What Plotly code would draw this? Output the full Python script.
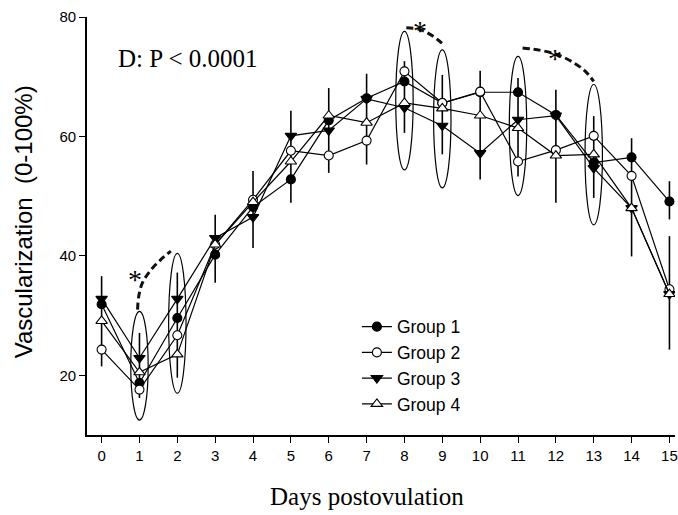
import plotly.graph_objects as go

# ---------------- data ----------------
days = list(range(16))
group1 = [31.9, 18.7, 29.6, 40.2, 48.2, 52.8, 62.7, 66.4, 69.2, 65.6, 67.4, 67.4, 63.6, 55.6, 56.5, 49.1]
group2 = [24.3, 17.6, 26.7, 41.9, 49.4, 57.6, 56.8, 59.3, 70.9, 65.6, 67.5, 55.8, 57.7, 60.1, 53.4, 34.4]
group3 = [32.8, 22.9, 32.8, 43.0, 46.5, 60.1, 61.0, 66.3, 64.8, 61.8, 57.2, 62.8, 63.5, 54.7, 48.0, 33.6]
group4 = [29.1, 20.5, 23.5, 41.9, 49.0, 55.8, 63.5, 62.3, 65.6, 64.7, 63.5, 61.4, 56.8, 57.0, 48.0, 33.6]

# error bar extents (top / bottom of the visible vertical bars)
bar_top = [36.6, 27.1, 37.2, 46.9, 54.2, 64.3, 68.1, 70.5, 72.6, 70.3, 71.0, 69.8, 67.8, 63.4, 59.7, 52.5]
bar_bottom = [21.5, 16.2, 19.6, 35.5, 41.3, 48.9, 53.9, 55.3, 60.6, 57.0, 52.8, 53.3, 48.9, 49.7, 39.9, 46.1]
# second bar drawn only on day 15 (groups 2-4)
bar2_top = [None] * 15 + [43.3]
bar2_bottom = [None] * 15 + [24.3]

# significance ellipses
ell_days = [1, 2, 8, 9, 11, 13]
ell_low = [12.5, 17.0, 54.4, 51.4, 50.1, 45.2]
ell_high = [30.7, 40.4, 77.6, 74.5, 73.4, 68.7]

# dashed significance curves
curve1_x = [0.95, 0.98, 1.08, 1.31, 1.57, 1.83]
curve1_y = [31.0, 33.2, 35.5, 37.7, 39.4, 40.8]
curve2_x = [8.05, 8.36, 8.62, 8.88, 9.06]
curve2_y = [78.2, 78.0, 77.3, 76.2, 75.2]
curve3_x = [11.12, 11.60, 12.04, 12.48, 12.78, 13.00]
curve3_y = [74.8, 74.4, 73.7, 72.3, 70.9, 69.2]

star_x = [0.89, 8.41, 11.98]
star_y = [36.0, 77.8, 73.1]

x_ticks = list(range(16))
y_ticks = [20, 40, 60, 80]

# ---------------- figure ----------------
fig = go.Figure()

plus1 = [t - v for t, v in zip(bar_top, group1)]
minus1 = [v - b for b, v in zip(bar_bottom, group1)]
plus2 = [0 if t is None else t - v for t, v in zip(bar2_top, group2)]
minus2 = [0 if b is None else v - b for b, v in zip(bar2_bottom, group2)]

# dashed curves (behind)
for cx, cy in [(curve1_x, curve1_y), (curve2_x, curve2_y), (curve3_x, curve3_y)]:
    fig.add_trace(go.Scatter(x=cx, y=cy, mode="lines", showlegend=False,
                             line=dict(color="#111111", width=3, dash="7px,4px", shape="spline"),
                             hoverinfo="skip"))

series = [
    ("Group 1", group1, "circle", "black", 9, dict(type="data", symmetric=False, array=plus1, arrayminus=minus1)),
    ("Group 2", group2, "circle", "white", 9, dict(type="data", symmetric=False, array=plus2, arrayminus=minus2)),
    ("Group 3", group3, "triangle-down", "black", 10, None),
    ("Group 4", group4, "triangle-up", "white", 10, None),
]
for name, vals, sym, fill, size, err in series:
    tr = go.Scatter(x=days, y=vals, name=name, mode="lines+markers",
                    line=dict(color="black", width=1.2),
                    marker=dict(symbol=sym, size=size, color=fill,
                                line=dict(color="black", width=1.1)))
    if err is not None:
        err.update(color="black", thickness=1.6, width=0)
        tr.error_y = err
    fig.add_trace(tr)

for d, lo, hi in zip(ell_days, ell_low, ell_high):
    fig.add_shape(type="circle", xref="x", yref="y", x0=d - 0.23, x1=d + 0.23, y0=lo, y1=hi,
                  line=dict(color="black", width=1.2))

for sx, sy in zip(star_x, star_y):
    fig.add_annotation(x=sx, y=sy, text="*", showarrow=False, xanchor="center", yanchor="middle",
                       font=dict(family="Liberation Serif", size=28, color="#000000"))

fig.add_annotation(x=0.38, y=73.0, text="D: P < 0.0001", showarrow=False, xanchor="left", yanchor="middle",
                   font=dict(family="Liberation Serif", size=25, color="#000000"))

fig.add_annotation(xref="paper", yref="paper", x=0.477, y=-0.148, text="Days postovulation",
                   showarrow=False, xanchor="center", yanchor="middle",
                   font=dict(family="Liberation Serif", size=25, color="#000000"))
fig.add_annotation(xref="paper", yref="paper", x=-0.108, y=0.51, text="Vascularization  (0-100%)",
                   showarrow=False, textangle=-90, xanchor="center", yanchor="middle",
                   font=dict(family="Liberation Sans", size=24, color="#000000"))

fig.update_layout(
    width=678, height=515,
    margin=dict(l=87, r=0, t=17, b=80),
    paper_bgcolor="white", plot_bgcolor="white",
    font=dict(family="Liberation Sans", color="#000000"),
    legend=dict(x=0.459, y=0.302, xanchor="left", yanchor="top", bgcolor="rgba(255,255,255,0)",
                font=dict(family="Liberation Sans", size=17.5, color="#000000"), tracegroupgap=0),
)
fig.update_xaxes(range=[-0.386, 15.147], tickvals=x_ticks, ticks="outside", ticklen=6, tickwidth=1.3,
                 tickcolor="black", showline=True, linecolor="black", linewidth=1.6, showgrid=False,
                 zeroline=False, tickfont=dict(size=15, color="#000000"), ticklabeloverflow="allow")
fig.update_yaxes(range=[10, 80], tickvals=y_ticks, ticks="outside", ticklen=6, tickwidth=1.3,
                 tickcolor="black", showline=True, linecolor="black", linewidth=1.6, showgrid=False,
                 zeroline=False, tickfont=dict(size=15, color="#000000"))

fig.write_html("out.html", config={"displayModeBar": False},
               post_script="document.body.style.margin='0';document.body.style.overflow='hidden';")
